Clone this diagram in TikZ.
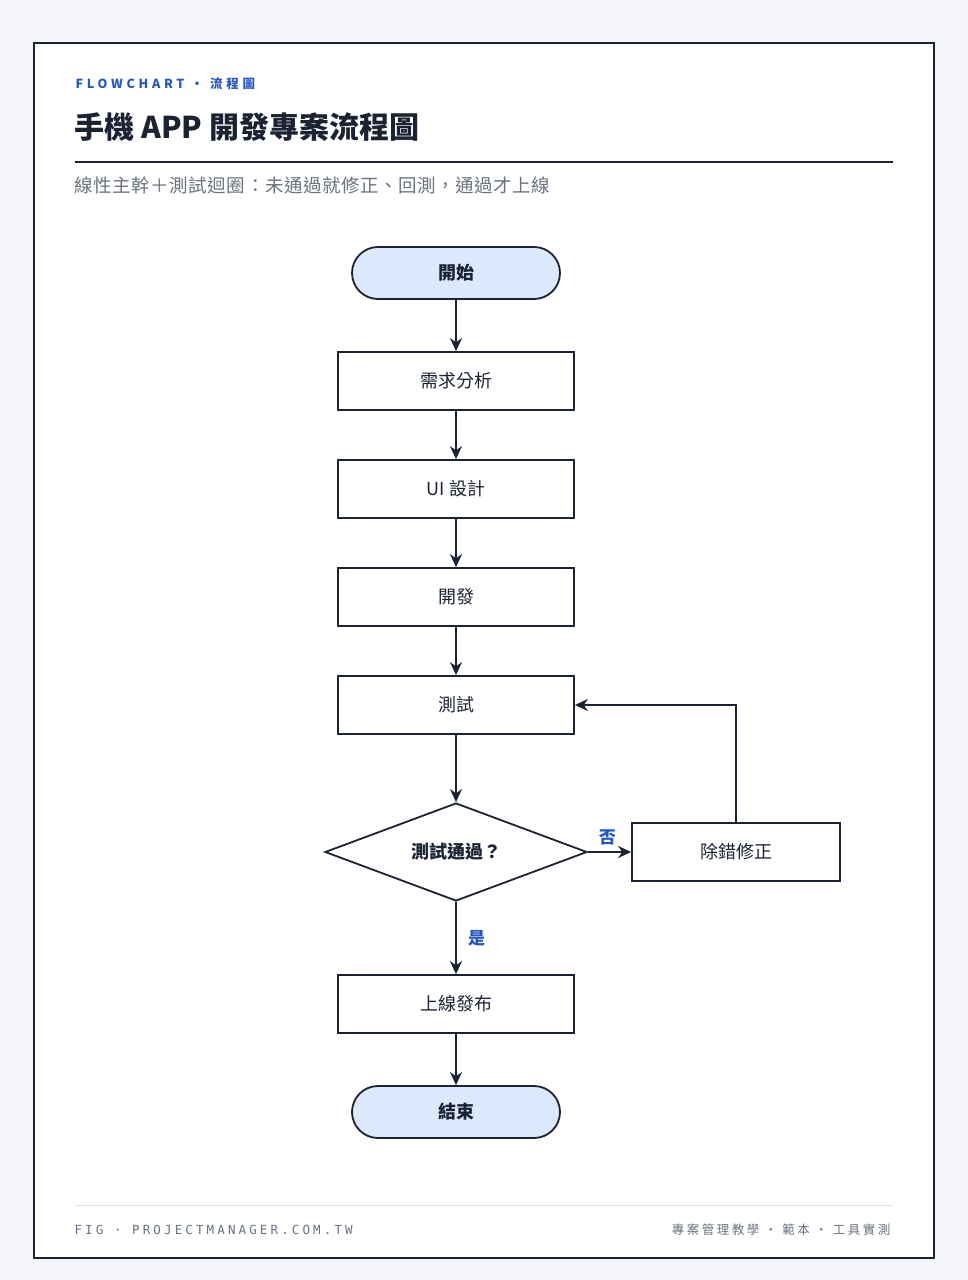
\documentclass[tikz,border=0pt]{standalone}
\usepackage{fontspec}
\setmainfont{Noto Sans CJK TC}
\newfontfamily\cjkspaced{Noto Sans CJK TC}[LetterSpace=30]
\newfontfamily\cjksub{Noto Sans CJK TC}[LetterSpace=3]
\newfontfamily\footfont{DejaVu Sans Mono}[LetterSpace=25]
\newfontfamily\cjkfoot{Noto Sans CJK TC}[LetterSpace=20]
\usetikzlibrary{positioning,shapes.geometric,arrows.meta}
\definecolor{inkdark}{HTML}{1B2333}
\definecolor{accent}{HTML}{2456C8}
\definecolor{softgray}{HTML}{6B7280}
\definecolor{termfill}{HTML}{DCE8FB}
\definecolor{pagebg}{HTML}{F3F5F8}
\tikzset{
  stage/.style={draw=inkdark, line width=1.8pt, minimum width=236pt, minimum height=58pt, font=\fontsize{18}{20}\selectfont, text=inkdark},
  term/.style={draw=inkdark, line width=1.8pt, rounded corners=26pt, fill=termfill, minimum width=208pt, minimum height=52pt, font=\bfseries\fontsize{18}{20}\selectfont, text=inkdark},
  check/.style={draw=inkdark, line width=1.8pt, diamond, aspect=2.67, minimum width=262pt, minimum height=98pt, inner sep=0pt, font=\bfseries\fontsize{18}{20}\selectfont, text=inkdark},
  flow/.style={draw=inkdark, line width=1.8pt, -{Stealth[length=13pt,width=12pt]}},
  branch/.style={text=accent, font=\bfseries\fontsize{17}{19}\selectfont},
}
\begin{document}
\begin{tikzpicture}[x=1pt, y=-1pt]
  \useasboundingbox (0,0) rectangle (968,1280);
  \fill[pagebg] (0,0) rectangle (968,1280);
  \draw[fill=white, draw=inkdark, line width=1.4pt] (34,43) rectangle (934,1258);

  % header
  \node[anchor=west, text=accent, font=\cjkspaced\bfseries\fontsize{12.5}{14}\selectfont] (kicker) at (72,84) {FLOWCHART · 流程圖};
  \node[anchor=west, text=inkdark, font=\bfseries\fontsize{30}{32}\selectfont] (title) at (71,127) {手機 APP 開發專案流程圖};
  \draw[inkdark, line width=1.4pt] (75,162) -- (893,162);
  \node[anchor=west, text=softgray, font=\cjksub\fontsize{18.5}{20}\selectfont] (subtitle) at (71,185) {線性主幹＋測試迴圈：未通過就修正、回測，通過才上線};

  % flow
  \node[term] (start) at (456,273) {開始};
  \node[stage] (req) at (456,381) {需求分析};
  \node[stage] (ui) at (456,489) {UI 設計};
  \node[stage] (dev) at (456,597) {開發};
  \node[stage] (test) at (456,705) {測試};
  \node[check] (pass) at (456,852) {測試通過？};
  \node[stage, minimum width=208pt] (fix) at (736,852) {除錯修正};
  \node[stage] (launch) at (456,1004) {上線發布};
  \node[term] (stop) at (456,1112) {結束};

  \draw[flow] (start) -- (req);
  \draw[flow] (req) -- (ui);
  \draw[flow] (ui) -- (dev);
  \draw[flow] (dev) -- (test);
  \draw[flow] (test) -- (pass);
  \draw[flow] (pass) -- node[branch, pos=0.45, above=3pt] {否} (fix);
  \draw[flow] (fix.north) |- (test.east);
  \draw[flow] (pass) -- node[branch, pos=0.5, right=8pt] {是} (launch);
  \draw[flow] (launch) -- (stop);

  % footer
  \draw[black!12, line width=1pt] (75,1205) -- (893,1205);
  \node[anchor=west, text=softgray, font=\footfont\fontsize{12.5}{14}\selectfont] (figtag) at (71,1230) {FIG · PROJECTMANAGER.COM.TW};
  \node[anchor=east, text=softgray, font=\cjkfoot\fontsize{12.5}{14}\selectfont] (tags) at (894,1230) {專案管理教學 · 範本 · 工具實測};
\end{tikzpicture}
\end{document}
